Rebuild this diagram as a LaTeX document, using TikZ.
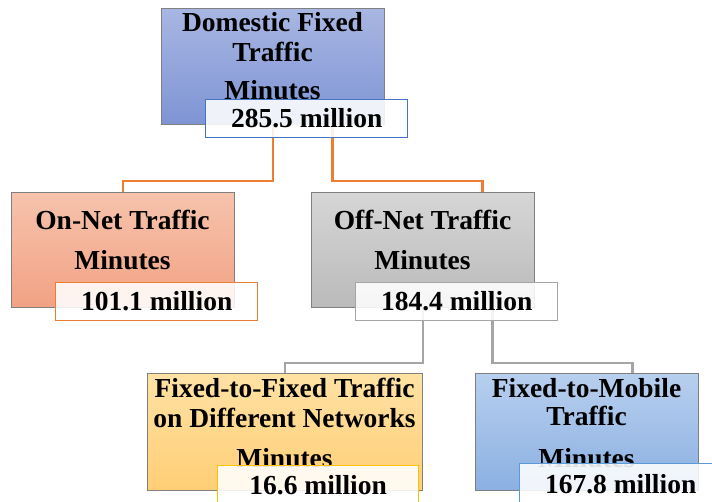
\documentclass[tikz,border=0pt]{standalone}
\usepackage{fontspec}
\setmainfont{Liberation Serif}[BoldFont={Liberation Serif Bold}]
\newfontfamily\valfont{Liberation Serif Bold}
\usetikzlibrary{calc}
\definecolor{cTopA}{RGB}{168,182,226}
\definecolor{cTopB}{RGB}{126,148,212}
\definecolor{cOnA}{RGB}{246,195,172}
\definecolor{cOnB}{RGB}{242,162,132}
\definecolor{cOffA}{RGB}{214,214,214}
\definecolor{cOffB}{RGB}{186,186,186}
\definecolor{cFFA}{RGB}{255,226,164}
\definecolor{cFFB}{RGB}{255,206,118}
\definecolor{cFMA}{RGB}{184,207,238}
\definecolor{cFMB}{RGB}{138,176,226}
\definecolor{cOrange}{RGB}{237,125,49}
\definecolor{cGray}{RGB}{165,165,165}
\definecolor{cBlue}{RGB}{68,114,196}
\definecolor{cGold}{RGB}{255,192,0}
\definecolor{cLBlue}{RGB}{91,155,213}
\definecolor{cEdge}{RGB}{128,128,128}
\tikzset{
  bigbox/.style={draw=cEdge, line width=1pt, anchor=north west, inner sep=0pt},
  valbox/.style={fill=white, fill opacity=0.88, text opacity=1, line width=1.3pt,
    anchor=north west, inner sep=0pt, font=\valfont\fontsize{27.5}{30}\selectfont},
  ttl/.style={anchor=base, inner sep=0pt, font=\valfont\fontsize{27.5}{30}\selectfont},
  oline/.style={draw=cOrange, line width=2.6pt},
  gline/.style={draw=cGray, line width=2.6pt},
}
\begin{document}
\begin{tikzpicture}[x=1pt,y=-1pt]
\useasboundingbox (0,0) rectangle (712,502);
\clip (0,0) rectangle (712,502);
\fill[white] (0,0) rectangle (712,502);

% main boxes
\node[bigbox, top color=cTopA, bottom color=cTopB, minimum width=223pt, minimum height=116pt] (top) at (161,8) {};
\node[bigbox, top color=cOnA, bottom color=cOnB, minimum width=223pt, minimum height=115pt] (on) at (11,192) {};
\node[bigbox, top color=cOffA, bottom color=cOffB, minimum width=223pt, minimum height=115pt] (off) at (311,192) {};
\node[bigbox, top color=cFFA, bottom color=cFFB, minimum width=275pt, minimum height=117pt] (ff) at (147,373) {};
\node[bigbox, top color=cFMA, bottom color=cFMB, minimum width=223pt, minimum height=117pt] (fm) at (475,373) {};

% connectors
\draw[oline] (top.south) -- ++(0,56) -| (on.north);
\draw[oline] ([xshift=59.5pt]top.south) -- ++(0,56) -| ([xshift=59.5pt]off.north);
\draw[gline] (off.south) -- ++(0,55) -| (ff.north);
\draw[gline] ([xshift=69.5pt]off.south) -- ++(0,55) -| ([xshift=45.5pt]fm.north);

% titles
\node[ttl] (t1) at (272.5,32) {Domestic Fixed};
\node[ttl] (t2) at (272.5,62) {Traffic};
\node[ttl] (t3) at (272.5,100) {Minutes};
\node[ttl] (o1) at (122.5,230) {On-Net Traffic};
\node[ttl] (o2) at (122.5,270) {Minutes};
\node[ttl] (f1) at (422.5,230) {Off-Net Traffic};
\node[ttl] (f2) at (422.5,270) {Minutes};
\node[ttl] (x1) at (284.5,398) {Fixed-to-Fixed Traffic};
\node[ttl] (x2) at (284.5,427) {on Different Networks};
\node[ttl] (x3) at (284.5,467) {Minutes};
\node[ttl] (m1) at (586.5,397) {Fixed-to-Mobile};
\node[ttl] (m2) at (586.5,425) {Traffic};
\node[ttl] (m3) at (586.5,467) {Minutes};

% value boxes
\node[valbox, draw=cBlue, minimum width=202pt, minimum height=38pt] (topv) at (205,99) {285.5 million};
\node[valbox, draw=cOrange, minimum width=202pt, minimum height=38pt] (onv) at (55,282) {101.1 million};
\node[valbox, draw=cGray, minimum width=202pt, minimum height=38pt] (offv) at (355,282) {184.4 million};
\node[valbox, draw=cGold, minimum width=201pt, minimum height=46pt, text depth=8pt] (ffv) at (217,465) {16.6 million};
\node[valbox, draw=cLBlue, minimum width=202pt, minimum height=48pt, text depth=8pt] (fmv) at (519,463) {167.8 million};
\end{tikzpicture}
\end{document}
